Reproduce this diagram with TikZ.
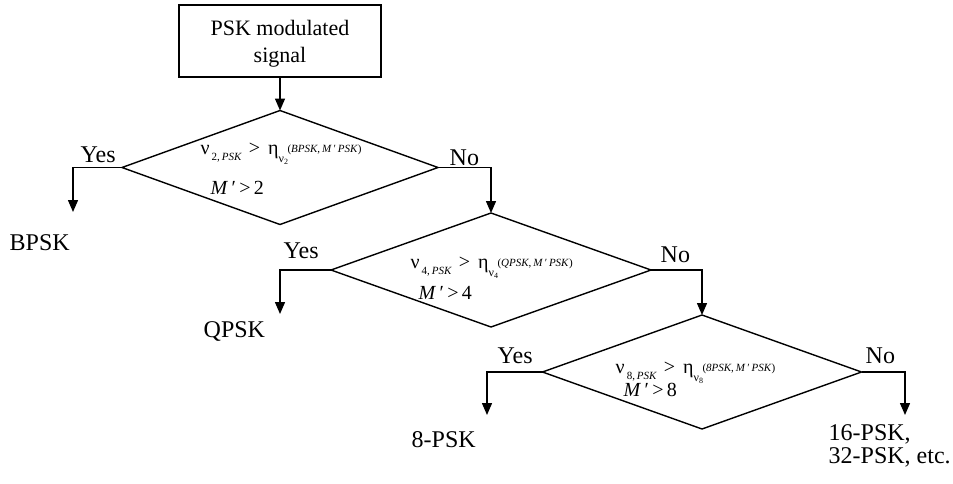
\documentclass[tikz,border=0pt]{standalone}
\usepackage{fontspec}
\setmainfont{Liberation Serif}
\usetikzlibrary{arrows.meta,shapes.geometric}
\newcommand\smallfnt{\fontsize{11}{13}\selectfont}
\newcommand\condA[2]{ν\kern2pt\raisebox{-6pt}{\smallfnt #1,\,\textit{PSK}}\kern7pt>\kern8pt η\raisebox{-8pt}{\fontsize{12}{14}\selectfont ν\raisebox{-2.5pt}{\fontsize{8}{9}\selectfont #1}}\kern-0.5pt\raisebox{2pt}{\smallfnt (\textit{#2},\,\textit{M}\,′\,\textit{PSK})}}
\newcommand\condB[1]{\textit{M}\,′\,>\,#1}
\begin{document}
\begin{tikzpicture}[x=1pt,y=-1pt,
  line width=1.4pt,
  arr/.style={-{Triangle[length=12pt,width=10pt]}},
  dia/.style={draw,shape=diamond,inner sep=0pt,outer sep=0pt,minimum width=#1,minimum height=114pt},
  lbl/.style={font=\fontsize{24}{28}\selectfont,inner sep=0pt,anchor=base west},
  cond/.style={font=\fontsize{20}{24}\selectfont,inner sep=0pt,anchor=base west},
  ]
\useasboundingbox[fill=white] (0,0) rectangle (953,483);
% start box
\node[draw,minimum width=202pt,minimum height=72pt,inner sep=0pt,align=center,
      font=\fontsize{22}{27}\selectfont] (box) at (280,41) {\rule{0pt}{20pt}PSK modulated\\signal};
% decisions
\node[dia=316pt] (d1) at (280,167.5) {};
\node[dia=320pt] (d2) at (491,270) {};
\node[dia=319pt] (d3) at (702,372) {};
% conditions
\node[cond] (c1a) at (200,154) {\condA{2}{BPSK}};
\node[cond] (c1b) at (210,194) {\condB{2}};
\node[cond] (c2a) at (410,268) {\condA{4}{QPSK}};
\node[cond] (c2b) at (418,299) {\condB{4}};
\node[cond] (c3a) at (615,373) {\condA{8}{8PSK}};
\node[cond] (c3b) at (623,396) {\condB{8}};
% branch labels
\node[lbl] (y1) at (80,162) {Yes};
\node[lbl] (n1) at (449,165) {No};
\node[lbl] (y2) at (283,258) {Yes};
\node[lbl] (n2) at (660,262) {No};
\node[lbl] (y3) at (497,363) {Yes};
\node[lbl] (n3) at (865,363) {No};
% results
\node[lbl] (r1) at (9,250) {BPSK};
\node[lbl] (r2) at (203,337) {QPSK};
\node[lbl] (r3) at (411,447) {8-PSK};
\node[font=\fontsize{24}{23}\selectfont,inner sep=0pt,anchor=north west,align=left] (r4) at (828,424) {16-PSK,\\32-PSK, etc.};
% arrow ends
\coordinate (e1) at (73,212);
\coordinate (e2) at (280,314);
\coordinate (e3) at (487,415);
\coordinate (e4) at (905,415);
% connectors
\draw[arr] (box.south) -- (d1.north);
\draw[arr] (d1.west) -| (e1);
\draw[arr] (d1.east) -| (d2.north);
\draw[arr] (d2.west) -| (e2);
\draw[arr] (d2.east) -| (d3.north);
\draw[arr] (d3.west) -| (e3);
\draw[arr] (d3.east) -| (e4);
\end{tikzpicture}
\end{document}
